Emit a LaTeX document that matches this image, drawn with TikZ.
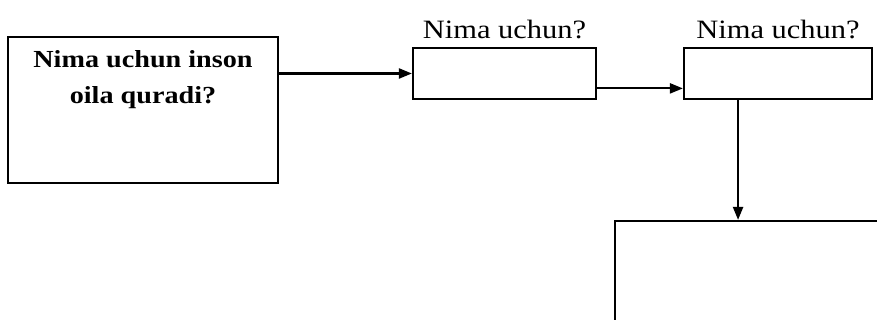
\documentclass[tikz,border=0pt]{standalone}
\usepackage{fontspec}
\setmainfont{Liberation Serif}[FakeStretch=1.15]
\usetikzlibrary{arrows.meta,positioning,calc}

\begin{document}
\begin{tikzpicture}[
    x=1pt, y=-1pt,
    >={Triangle[length=13pt,width=10pt]},
    line width=2.2pt,
    qbox/.style={draw, rectangle, inner sep=0pt},
    qtext/.style={font=\fontsize{26.5}{30}\selectfont, inner sep=0pt},
  ]
\useasboundingbox (0,0) rectangle (877,320);

% first question box
\node[qbox, minimum width=270pt, minimum height=146pt] (why) at (143,110) {};
\node[font=\bfseries\fontsize{24.5}{36}\selectfont, align=center, inner sep=0pt,
      anchor=north] (whytxt) at ($(why.north)+(0,14)$)
  {Nima uchun inson\\oila quradi?};

% answer boxes
\node[qbox, minimum width=183pt, minimum height=51pt] (ans1) at (504.5,73.5) {};
\node[qbox, minimum width=188pt, minimum height=51pt] (ans2) at (778,73.5) {};
\node[qtext, above=7pt of ans1] (lab1) {Nima uchun?};
\node[qtext, above=7pt of ans2] (lab2) {Nima uchun?};

% final box (runs off the page)
\node[qbox, minimum width=300pt, minimum height=150pt] (ans3) at (765,296) {};

% connectors
\draw[->] (ans1.west -| why.east) -- (ans1.west);
\coordinate (b2c) at ($(ans1.south east)!0.22!(ans1.north east)$);
\draw[->] (b2c) -- (b2c -| ans2.west);
\coordinate (c2d) at ($(ans2.south west)!0.29!(ans2.south east)$);
\draw[->] (c2d) -- (c2d |- ans3.north);

\end{tikzpicture}
\end{document}
